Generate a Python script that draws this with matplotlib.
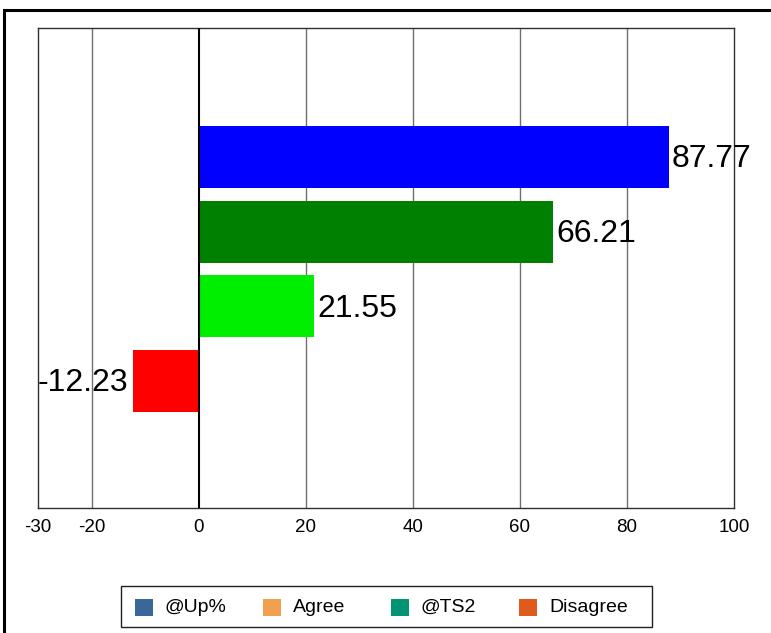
import matplotlib
matplotlib.use("Agg")
from matplotlib import pyplot as plt
from matplotlib.patches import Rectangle

VALUES = [87.77, 66.21, 21.55, -12.23]
BAR_COLORS = ["#0000ff", "#008000", "#00ee00", "#ff0000"]
LEGEND_LABELS = ["@Up%", "Agree", "@TS2", "Disagree"]
LEGEND_COLORS = ["#3a6699", "#f0a050", "#009473", "#e05a1e"]
X_TICKS = [-30, -20, 0, 20, 40, 60, 80, 100]
GRID_X = [-20, 20, 40, 60, 80]

plt.rcParams["font.family"] = ["Liberation Sans", "DejaVu Sans"]

W, H = 771, 633
fig = plt.figure(figsize=(W / 100, H / 100), dpi=100)


def px(x, y):
    # pixel position (from top-left) -> figure fraction
    return x / W, 1 - y / H


# outer frame (only left and top edges are visible)
fig.patches.append(
    Rectangle((4 / W, -0.05), 1.1, 1 - 9.5 / H + 0.05, transform=fig.transFigure,
              fill=False, edgecolor="black", linewidth=2.2)
)

ax = fig.add_axes([38 / W, (H - 508) / H, 696 / W, 480 / H])

ypos = list(range(len(VALUES)))
ax.barh(ypos, VALUES, height=0.83, color=BAR_COLORS, zorder=3)

for y, v in zip(ypos, VALUES):
    if v >= 0:
        ax.text(v + 0.6, y + 0.03, f"{v:.2f}", ha="left", va="center", fontsize=23, zorder=5)
    else:
        ax.text(v - 0.9, y + 0.03, f"{v:.2f}", ha="right", va="center", fontsize=23, zorder=5)

for gx in GRID_X:
    ax.axvline(gx, color="#707070", linewidth=1.0, zorder=1)
ax.axvline(0, color="black", linewidth=1.5, zorder=4)

ax.set_xlim(-30, 100)
ax.set_ylim(4.70, -1.727)
ax.set_xticks(X_TICKS)
ax.set_xticklabels([str(t) for t in X_TICKS], fontsize=13.5)
ax.set_yticks([])
ax.tick_params(axis="x", length=0, pad=8)
for s in ax.spines.values():
    s.set_color("#303030")
    s.set_linewidth(1.0)

# legend drawn by hand so the columns have an even pitch
x0, y0 = px(121, 627)
x1, y1 = px(652, 586)
fig.patches.append(
    Rectangle((x0, y0), x1 - x0, y1 - y0, transform=fig.transFigure,
              fill=False, edgecolor="#202020", linewidth=1.0)
)
for i, (lab, col) in enumerate(zip(LEGEND_LABELS, LEGEND_COLORS)):
    left = 135 + 128 * i
    bx, by = px(left, 616)
    fig.patches.append(
        Rectangle((bx, by), 18 / W, 17 / H, transform=fig.transFigure,
                  facecolor=col, edgecolor="none")
    )
    tx, ty = px(left + 30, 607)
    fig.text(tx, ty, lab, ha="left", va="center", fontsize=14)

fig.savefig("out.png", dpi=100)
